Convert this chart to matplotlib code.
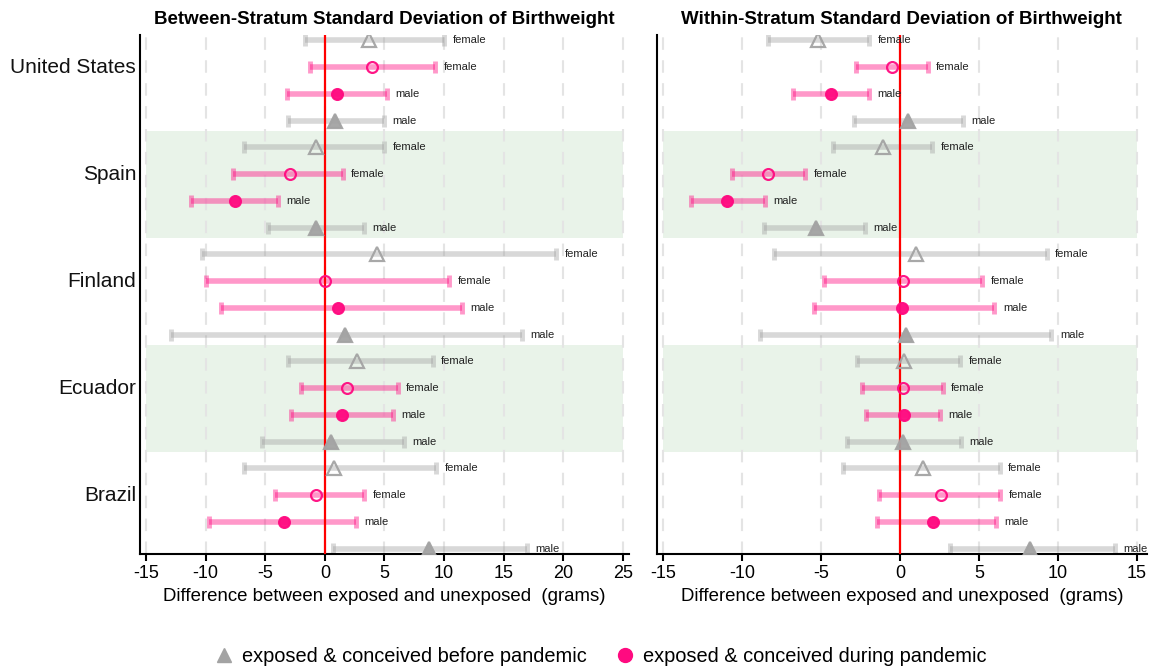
import matplotlib
matplotlib.use("Agg")
import matplotlib.pyplot as plt
from matplotlib.lines import Line2D
from matplotlib.transforms import blended_transform_factory

plt.rcParams['font.family'] = ['Liberation Sans', 'DejaVu Sans']

countries = ["United States", "Spain", "Finland", "Ecuador", "Brazil"]
row_sex = ["female", "female", "male", "male"]
row_group = ["before", "during", "during", "before"]   # within each country

# Between-stratum SD (left panel): estimate, lower, upper for 20 rows top to bottom
between_est = [3.68, 3.96, 1.00, 0.88,
               -0.74, -2.92, -7.50, -0.74,
               4.38, 0.00, 1.08, 1.72,
               2.73, 1.89, 1.42, 0.55,
               0.77, -0.71, -3.45, 8.77]
between_lo = [-1.66, -1.21, -3.20, -3.09,
              -6.80, -7.70, -11.20, -4.79,
              -10.30, -9.97, -8.71, -12.90,
              -3.06, -2.00, -2.81, -5.27,
              -6.75, -4.20, -9.69, 0.66]
between_hi = [10.00, 9.27, 5.19, 4.97,
              4.97, 1.50, -3.93, 3.32,
              19.42, 10.42, 11.48, 16.54,
              9.05, 6.11, 5.69, 6.67,
              9.33, 3.32, 2.59, 16.94]

# Within-stratum SD (right panel)
within_est = [-5.22, -0.51, -4.37, 0.47,
              -1.06, -8.39, -10.98, -5.34,
              0.99, 0.17, 0.15, 0.36,
              0.27, 0.21, 0.25, 0.21,
              1.46, 2.60, 2.11, 8.20]
within_lo = [-8.39, -2.81, -6.80, -2.89,
             -4.27, -10.67, -13.27, -8.64,
             -8.00, -4.84, -5.43, -8.85,
             -2.75, -2.39, -2.18, -3.36,
             -3.59, -1.33, -1.48, 3.17]
within_hi = [-1.96, 1.75, -1.99, 4.01,
             2.05, -6.00, -8.55, -2.20,
             9.29, 5.22, 5.98, 9.59,
             3.82, 2.70, 2.51, 3.84,
             6.32, 6.36, 6.06, 13.62]

titles = ["Between-Stratum Standard Deviation of Birthweight",
          "Within-Stratum Standard Deviation of Birthweight"]
xlabel = "Difference between exposed and unexposed  (grams)"
legend_labels = ["exposed & conceived before pandemic",
                 "exposed & conceived during pandemic"]

GRAY = "#a3a3a3"
PINK = "#ff0a80"
BAND = "#e9f3e9"

fig = plt.figure(figsize=(11.53, 6.71), dpi=100)
ax1 = fig.add_axes([0.1214, 0.1744, 0.4241, 0.7735])
ax2 = fig.add_axes([0.5696, 0.1744, 0.4250, 0.7735])

panels = [
    (ax1, between_est, between_lo, between_hi, (-15.5, 25.5), list(range(-15, 30, 5))),
    (ax2, within_est, within_lo, within_hi, (-15.42, 15.63), list(range(-15, 20, 5))),
]

n_rows = len(countries) * 4
for ax, est, lo, hi, xlim, ticks in panels:
    ax.set_xlim(*xlim)
    ax.set_ylim(n_rows + 0.2, 0.8)
    # shaded bands for alternate countries
    for ci in range(len(countries)):
        if ci % 2 == 1:
            top = ci * 4 + 1
            ax.fill_between([ticks[0], ticks[-1]], top - 0.6, top + 3 + 0.38,
                            color=BAND, zorder=0, lw=0)
    for t in ticks:
        ax.axvline(t, color="#e4e4e4", lw=1.5, ls=(0, (6, 5)), zorder=0.5)
    ax.axvline(0, color="red", lw=1.6, zorder=3)
    for i in range(n_rows):
        y = i + 1
        k = i % 4
        grp = row_group[k]
        col = GRAY if grp == "before" else PINK
        ax.plot([lo[i], hi[i]], [y, y], color=col, alpha=0.42, lw=4,
                solid_capstyle="butt", zorder=2)
        ax.plot([lo[i], hi[i]], [y, y], ls="none", marker="|", ms=8, mew=3.5,
                color=col, alpha=0.42, zorder=2)
        filled = (row_sex[k] == "male")
        if grp == "before":
            ax.plot(est[i], y, marker="^", ms=9.5, ls="none", zorder=4,
                    markerfacecolor=GRAY if filled else "none",
                    markeredgecolor=GRAY, markeredgewidth=1.6, alpha=0.95)
        else:
            ax.plot(est[i], y, marker="o", ms=7.8, ls="none", zorder=4,
                    markerfacecolor=PINK if filled else "none",
                    markeredgecolor=PINK, markeredgewidth=1.6, alpha=0.95)
        ax.annotate(row_sex[k], (hi[i], y), xytext=(6, 0), textcoords="offset points",
                    va="center", ha="left", fontsize=8, color="#222222", zorder=5)
    for s in ["top", "right"]:
        ax.spines[s].set_visible(False)
    ax.spines["left"].set_linewidth(1.5)
    ax.spines["bottom"].set_linewidth(1.5)
    ax.set_xticks(ticks)
    ax.set_xticklabels([str(t) for t in ticks])
    ax.tick_params(axis="x", labelsize=13, length=5, width=1.5, pad=3)
    ax.set_yticks([])
    ax.set_xlabel(xlabel, fontsize=13.4, labelpad=4)

ax1.set_title(titles[0], fontsize=13.5, fontweight="bold", pad=8)
ax2.set_title(titles[1], fontsize=13.5, fontweight="bold", pad=8)

trans = blended_transform_factory(ax1.transAxes, ax1.transData)
for ci, c in enumerate(countries):
    ax1.text(-0.008, ci * 4 + 2, c, transform=trans, ha="right", va="center",
             fontsize=15, color="#111111")

handles = [Line2D([], [], marker="^", ls="none", color=GRAY, ms=10.5),
           Line2D([], [], marker="o", ls="none", color=PINK, ms=10)]
fig.legend(handles, legend_labels, loc="center", bbox_to_anchor=(0.518, 0.021),
           ncol=2, frameon=False, fontsize=14.4, handletextpad=0.1,
           columnspacing=1.1, handlelength=1.6)

fig.savefig("out.png", dpi=100)
